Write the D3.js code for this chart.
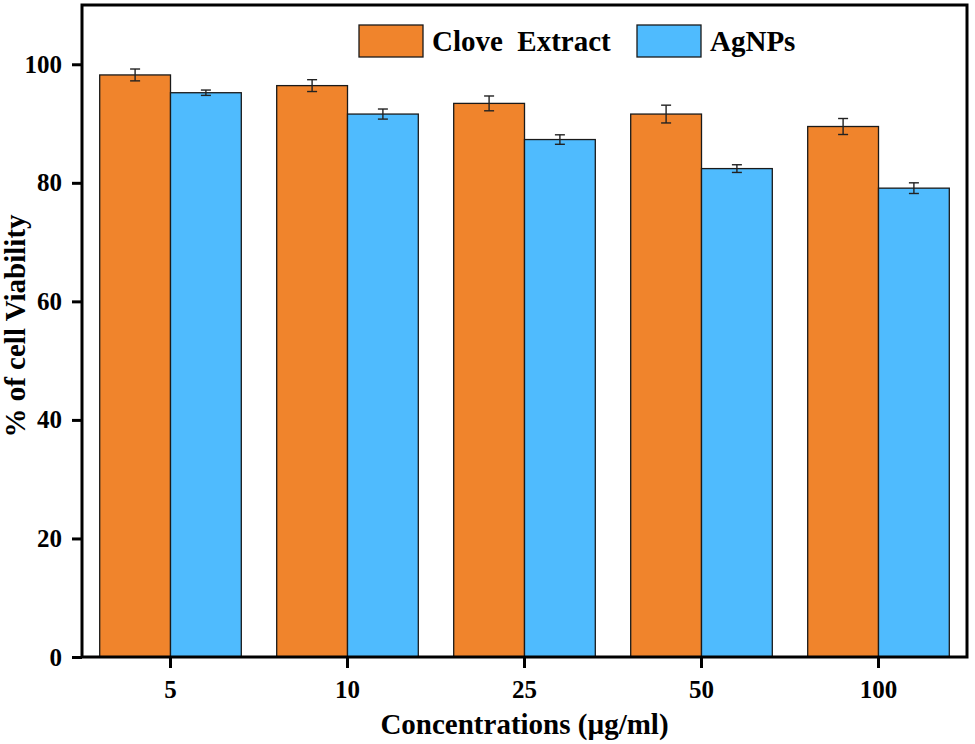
<!DOCTYPE html>
<html>
<head>
<meta charset="utf-8">
<script src="https://cdn.jsdelivr.net/npm/d3@7"></script>
<style>
  body { margin: 0; background: #fff; }
  text { font-family: "Liberation Serif", "Times New Roman", serif; font-weight: bold; }
</style>
</head>
<body>
<div id="chart"></div>
<script>
var concentrations = ["5", "10", "25", "50", "100"];
var series = ["Clove  Extract", "AgNPs"];
var cloveValues = [98.2, 96.4, 93.4, 91.6, 89.5];
var cloveErrors = [1.0, 1.0, 1.25, 1.5, 1.35];
var agnpValues = [95.2, 91.6, 87.3, 82.4, 79.1];
var agnpErrors = [0.45, 0.85, 0.8, 0.65, 0.9];
var yTicks = [0, 20, 40, 60, 80, 100];

var width = 975,
  height = 744,
  margin = { top: 5, right: 8, bottom: 87, left: 82 };

var colors = ["#F0842C", "#4FBBFE"];

var svg = d3.select("#chart")
  .append("svg")
  .attr("width", width)
  .attr("height", height);

var x = d3.scaleBand()
  .domain(concentrations)
  .range([margin.left, width - margin.right])
  .paddingInner(0)
  .paddingOuter(0);

// two bars per group, gap on both sides
var x1 = d3.scaleBand()
  .domain([0, 1])
  .range([0, x.bandwidth()])
  .paddingInner(0)
  .paddingOuter(0.25);

var y = d3.scaleLinear()
  .domain([0, 110])
  .range([height - margin.bottom, margin.top]);

// rows: one per concentration and series
var rows = [];
concentrations.forEach(function(c, i) {
  rows.push({ c: c, s: 0, v: cloveValues[i], e: cloveErrors[i] });
  rows.push({ c: c, s: 1, v: agnpValues[i], e: agnpErrors[i] });
});

var bars = svg.append("g");

bars.selectAll("rect")
  .data(rows)
  .enter().append("rect")
  .attr("x", function(d) { return x(d.c) + x1(d.s); })
  .attr("y", function(d) { return y(d.v); })
  .attr("width", x1.bandwidth())
  .attr("height", function(d) { return y(0) - y(d.v); })
  .attr("fill", function(d) { return colors[d.s]; })
  .attr("stroke", "#1a1a1a")
  .attr("stroke-width", 1.3);

// error bars
var err = svg.append("g")
  .attr("stroke", "#222")
  .attr("stroke-width", 1.4);

rows.forEach(function(d) {
  var cx = x(d.c) + x1(d.s) + x1.bandwidth() / 2;
  err.append("line")
    .attr("x1", cx).attr("x2", cx)
    .attr("y1", y(d.v + d.e)).attr("y2", y(d.v - d.e));
  err.append("line")
    .attr("x1", cx - 5).attr("x2", cx + 5)
    .attr("y1", y(d.v + d.e)).attr("y2", y(d.v + d.e));
  err.append("line")
    .attr("x1", cx - 5).attr("x2", cx + 5)
    .attr("y1", y(d.v - d.e)).attr("y2", y(d.v - d.e));
});

// axes
var yAxis = svg.append("g")
  .attr("transform", "translate(" + margin.left + ",0)")
  .call(d3.axisLeft(y).tickValues(yTicks).tickSize(10).tickPadding(10));

var xAxis = svg.append("g")
  .attr("transform", "translate(0," + y(0) + ")")
  .call(d3.axisBottom(x).tickSize(11).tickPadding(12));

[yAxis, xAxis].forEach(function(a) {
  a.select(".domain").remove();
  a.selectAll(".tick line").attr("stroke", "#000").attr("stroke-width", 3);
  a.selectAll(".tick text")
    .attr("fill", "#000")
    .style("font-size", "25px");
});

// frame
svg.append("rect")
  .attr("x", margin.left)
  .attr("y", margin.top)
  .attr("width", width - margin.left - margin.right)
  .attr("height", y(0) - margin.top)
  .attr("fill", "none")
  .attr("stroke", "#000")
  .attr("stroke-width", 3);

// axis titles
svg.append("text")
  .attr("x", (margin.left + width - margin.right) / 2)
  .attr("y", 734)
  .attr("text-anchor", "middle")
  .style("font-size", "29px")
  .text("Concentrations (µg/ml)");

svg.append("text")
  .attr("transform", "translate(25,326) rotate(-90)")
  .attr("text-anchor", "middle")
  .style("font-size", "29px")
  .text("% of cell Viability");

// legend
var legendX = [359, 637];
var legend = svg.selectAll(".legend")
  .data(series)
  .enter().append("g")
  .attr("class", "legend")
  .attr("transform", function(d, i) { return "translate(" + legendX[i] + ",25)"; });

legend.append("rect")
  .attr("width", 64)
  .attr("height", 32)
  .attr("fill", function(d, i) { return colors[i]; })
  .attr("stroke", "#1a1a1a")
  .attr("stroke-width", 1.3);

legend.append("text")
  .attr("x", 73)
  .attr("y", 26)
  .style("font-size", "29px")
  .style("white-space", "pre")
  .attr("xml:space", "preserve")
  .text(function(d) { return d; });
</script>
</body>
</html>
